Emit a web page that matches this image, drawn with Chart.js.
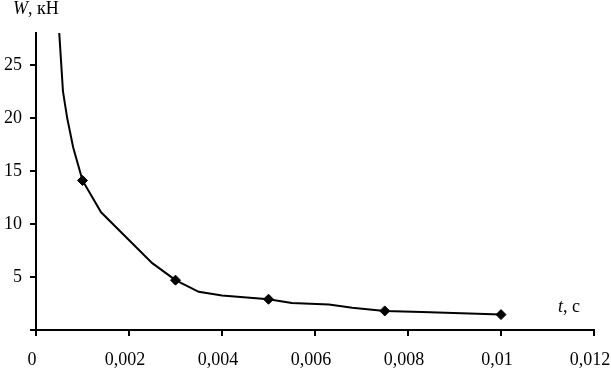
<!DOCTYPE html>
<html>
<head>
<meta charset="utf-8">
<script src="https://cdn.jsdelivr.net/npm/chart.js@4/dist/chart.umd.min.js"></script>
<style>
  body { margin: 0; background: #fff; }
  #wrap { position: relative; width: 611px; height: 370px; }
</style>
</head>
<body>
<div id="wrap"><canvas id="chart"></canvas></div>
<script>
// curve W(t)
const lineT = [0.0005, 0.00058, 0.00067, 0.0008, 0.001, 0.0014, 0.0025, 0.003, 0.0035, 0.004, 0.005, 0.0055, 0.0063, 0.0068, 0.0075, 0.0083, 0.01];
const lineW = [28, 22.5, 20, 17.2, 14.1, 11.1, 6.3, 4.7, 3.6, 3.25, 2.9, 2.55, 2.4, 2.1, 1.8, 1.7, 1.45];
// marked points
const markT = [0.001, 0.003, 0.005, 0.0075, 0.01];
const markW = [14.1, 4.7, 2.9, 1.8, 1.45];
// axes
const xTicks = [0, 0.002, 0.004, 0.006, 0.008, 0.01, 0.012];
const yTicks = [0, 5, 10, 15, 20, 25];
const yTitle = 'кН';
const xTitle = 'с';

const serif = "'Liberation Serif', 'Times New Roman', serif";

// axis names: "W, кН" top left, "t, с" over the x axis on the right
const axisNames = {
    id: 'axisNames',
    afterDraw(chart) {
        const ctx = chart.ctx;
        ctx.save();
        ctx.fillStyle = '#000';
        ctx.textBaseline = 'alphabetic';
        ctx.font = 'italic 18px ' + serif;
        ctx.fillText('W', 13, 14);
        let w = ctx.measureText('W').width;
        ctx.font = '18px ' + serif;
        ctx.fillText(', ' + yTitle, 13 + w, 14);

        ctx.font = 'italic 18px ' + serif;
        ctx.fillText('t', 558, 312);
        w = ctx.measureText('t').width;
        ctx.font = '18px ' + serif;
        ctx.fillText(', ' + xTitle, 558 + w, 312);
        ctx.restore();
    }
};

new Chart(document.getElementById('chart'), {
    type: 'scatter',
    data: {
        datasets: [{
            data: markT.map((t, i) => ({ x: t, y: markW[i] })),
            showLine: false,
            pointStyle: 'rectRot',
            pointRadius: 5,
            backgroundColor: '#000',
            borderColor: '#000',
            order: 0
        }, {
            data: lineT.map((t, i) => ({ x: t, y: lineW[i] })),
            showLine: true,
            borderColor: '#000',
            borderWidth: 2,
            pointRadius: 0,
            tension: 0,
            order: 1
        }]
    },
    options: {
        responsive: true,
        maintainAspectRatio: false,
        animation: false,
        layout: { padding: { top: 33, right: 17, left: 0, bottom: 0 } },
        plugins: {
            legend: { display: false },
            tooltip: { enabled: false }
        },
        scales: {
            x: {
                type: 'linear',
                min: 0,
                max: 0.012,
                afterFit: function(scale) {
                    scale.height = 40;
                    scale.paddingLeft = 0;
                    scale.paddingRight = 0;
                },
                afterBuildTicks: function(scale) { scale.ticks = xTicks.map(v => ({ value: v })); },
                border: { color: '#000', width: 2 },
                grid: { drawOnChartArea: false, color: '#000', lineWidth: 2, tickLength: 6 },
                ticks: {
                    color: '#000',
                    padding: 13,
                    labelOffset: -4,
                    maxRotation: 0,
                    font: { family: serif, size: 18 },
                    callback: v => String(parseFloat(v.toFixed(3))).replace('.', ',')
                }
            },
            y: {
                min: 0,
                max: 28,
                afterFit: function(scale) {
                    scale.width = 36;
                    scale.paddingTop = 0;
                    scale.paddingBottom = 0;
                },
                afterBuildTicks: function(scale) { scale.ticks = yTicks.map(v => ({ value: v })); },
                border: { color: '#000', width: 2 },
                grid: { drawOnChartArea: false, color: '#000', lineWidth: 2, tickLength: 6 },
                ticks: {
                    color: '#000',
                    padding: 8,
                    font: { family: serif, size: 18 },
                    callback: v => v === 0 ? '' : String(v)
                }
            }
        }
    },
    plugins: [axisNames]
});
</script>
</body>
</html>
